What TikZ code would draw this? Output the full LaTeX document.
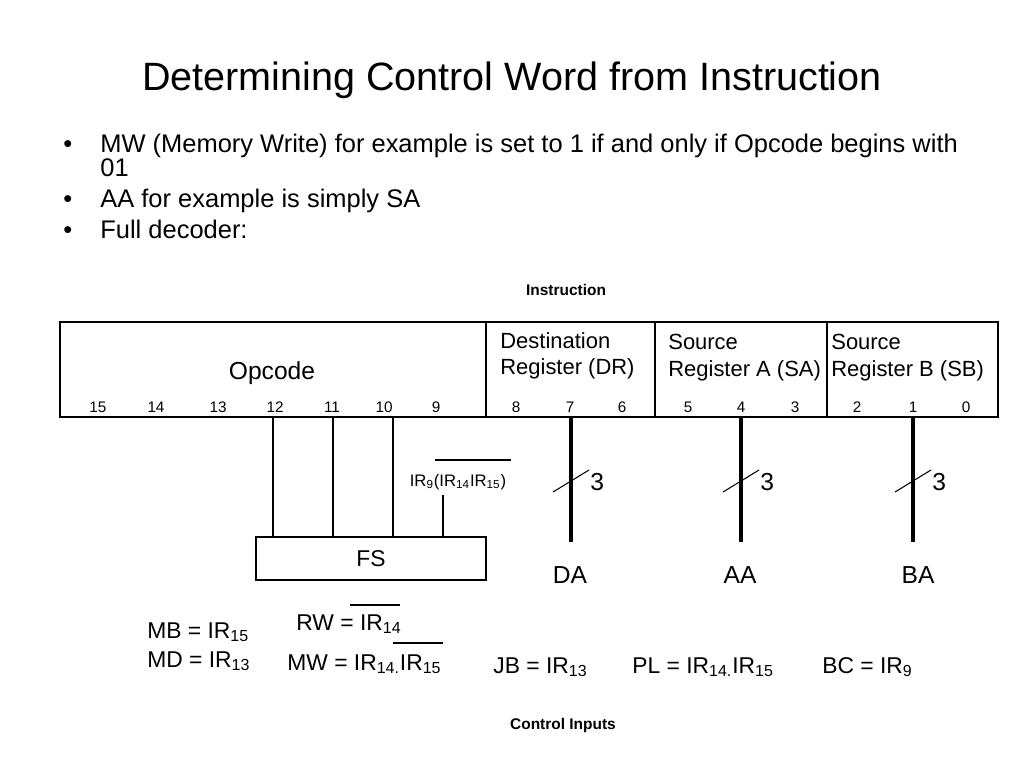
\documentclass[tikz,border=0pt]{standalone}
\usepackage{fontspec}
\setmainfont{Liberation Sans}
\usetikzlibrary{positioning,calc}

\newcommand*{\irsub}[1]{IR\textsubscript{#1}}
\newcommand*{\fsz}[1]{\fontsize{#1}{#1}\selectfont}
\newcommand*{\boxtop}{322}
\newcommand*{\boxbot}{417}

\begin{document}
\begin{tikzpicture}[x=0.02cm,y=-0.02cm,
	every node/.style={inner sep=0pt},
	wire/.style={line width=0.6pt},
	bus/.style={line width=2.8pt},
	item/.style={anchor=base west,font=\fsz{14.5pt}},
	bitno/.style={anchor=base,font=\fsz{8.7pt}},
	field/.style={anchor=base west,font=\fsz{12.5pt}},
	eqn/.style={anchor=base west,font=\fsz{13pt}},
	heading/.style={anchor=base,font=\bfseries\fsz{8.8pt}}]

	\useasboundingbox (0,0) rectangle (1024,768);

	% title and bullets
	\node[anchor=base,font=\fsz{22.5pt}] (title) at (512,90) {Determining Control Word from Instruction};
	\node[item] (dot1) at (63,152) {•};
	\node[item] (item1) at (100,152) {MW (Memory Write) for example is set to 1 if and only if Opcode begins with};
	\node[item] (item1b) at (100,176) {01};
	\node[item] (dot2) at (63,207) {•};
	\node[item] (item2) at (100,207) {AA for example is simply SA};
	\node[item] (dot3) at (63,238) {•};
	\node[item] (item3) at (100,238) {Full decoder:};

	\node[heading] (instrlbl) at (566,295) {Instruction};

	% instruction word
	\draw[wire] (60,\boxtop) rectangle (998,\boxbot);
	\foreach \x in {486,655,827}
		\draw[wire] (\x,\boxtop) -- (\x,\boxbot);

	\node[anchor=base,font=\fsz{14pt}] (opcode) at (272,379) {Opcode};
	\node[field] (dr1) at (500,348) {Destination};
	\node[field] (dr2) at (500,374) {Register (DR)};
	\node[field] (sa1) at (668,349) {Source};
	\node[field] (sa2) at (668,376) {Register A (SA)};
	\node[field] (sb1) at (831,349) {Source};
	\node[field] (sb2) at (831,376) {Register B (SB)};

	\foreach \b/\x in {15/98,14/156,13/218,12/275,11/332,10/384,9/436,8/516,
			7/570,6/622,5/688,4/741,3/795,2/857,1/913,0/966}
		\node[bitno] (bit\b) at (\x,412) {\b};

	% function select
	\node[draw,wire,minimum width=4.6cm,minimum height=0.86cm,font=\fsz{13pt}] (fs) at (371,558.5) {FS};
	\foreach \x/\nm in {273/tap12,333/tap11,393/tap10} {
		\coordinate (\nm) at (\x,\boxbot);
		\draw[wire] (\nm) -- (\nm |- fs.north);
	}
	\node[anchor=base,font=\fsz{9.5pt}] (bcond) at (458,486) {\irsub{9}(\irsub{14}\irsub{15})};
	\draw[wire] (435,460) -- (511,460);
	\coordinate (tap9) at (443,495);
	\draw[wire] (tap9) -- (tap9 |- fs.north);

	% register address buses
	\foreach \x/\nm/\lx/\lbl in {571/da/570/DA,741/aa/740/AA,913/ba/918/BA} {
		\coordinate (\nm-top) at (\x,\boxbot);
		\coordinate (\nm-end) at (\x,542);
		\draw[bus] (\nm-top) -- (\nm-end);
		\draw[wire] ($(\nm-top)+(-18,75)$) -- ++(36,-22);
		\node[anchor=base west,font=\fsz{14pt}] (\nm-w) at ($(\nm-top)+(19,73)$) {3};
		\node[anchor=base,font=\fsz{14pt}] (\nm) at (\lx,583) {\lbl};
	}

	% control inputs
	\node[eqn] (mb) at (147,638) {MB = \irsub{15}};
	\node[eqn] (md) at (147,667) {MD = \irsub{13}};
	\node[eqn] (rw) at (296,630) {RW = \irsub{14}};
	\draw[wire] (350,605) -- (400,605);
	\node[eqn] (mw) at (287,670) {MW = \irsub{14.}\irsub{15}};
	\draw[wire] (393,643) -- (443,643);
	\node[eqn] (jb) at (493,673) {JB = \irsub{13}};
	\node[eqn] (pl) at (632,673) {PL = \irsub{14.}\irsub{15}};
	\node[eqn] (bc) at (822,673) {BC = \irsub{9}};

	\node[heading] (ctrl) at (563,729) {Control Inputs};

\end{tikzpicture}
\end{document}
